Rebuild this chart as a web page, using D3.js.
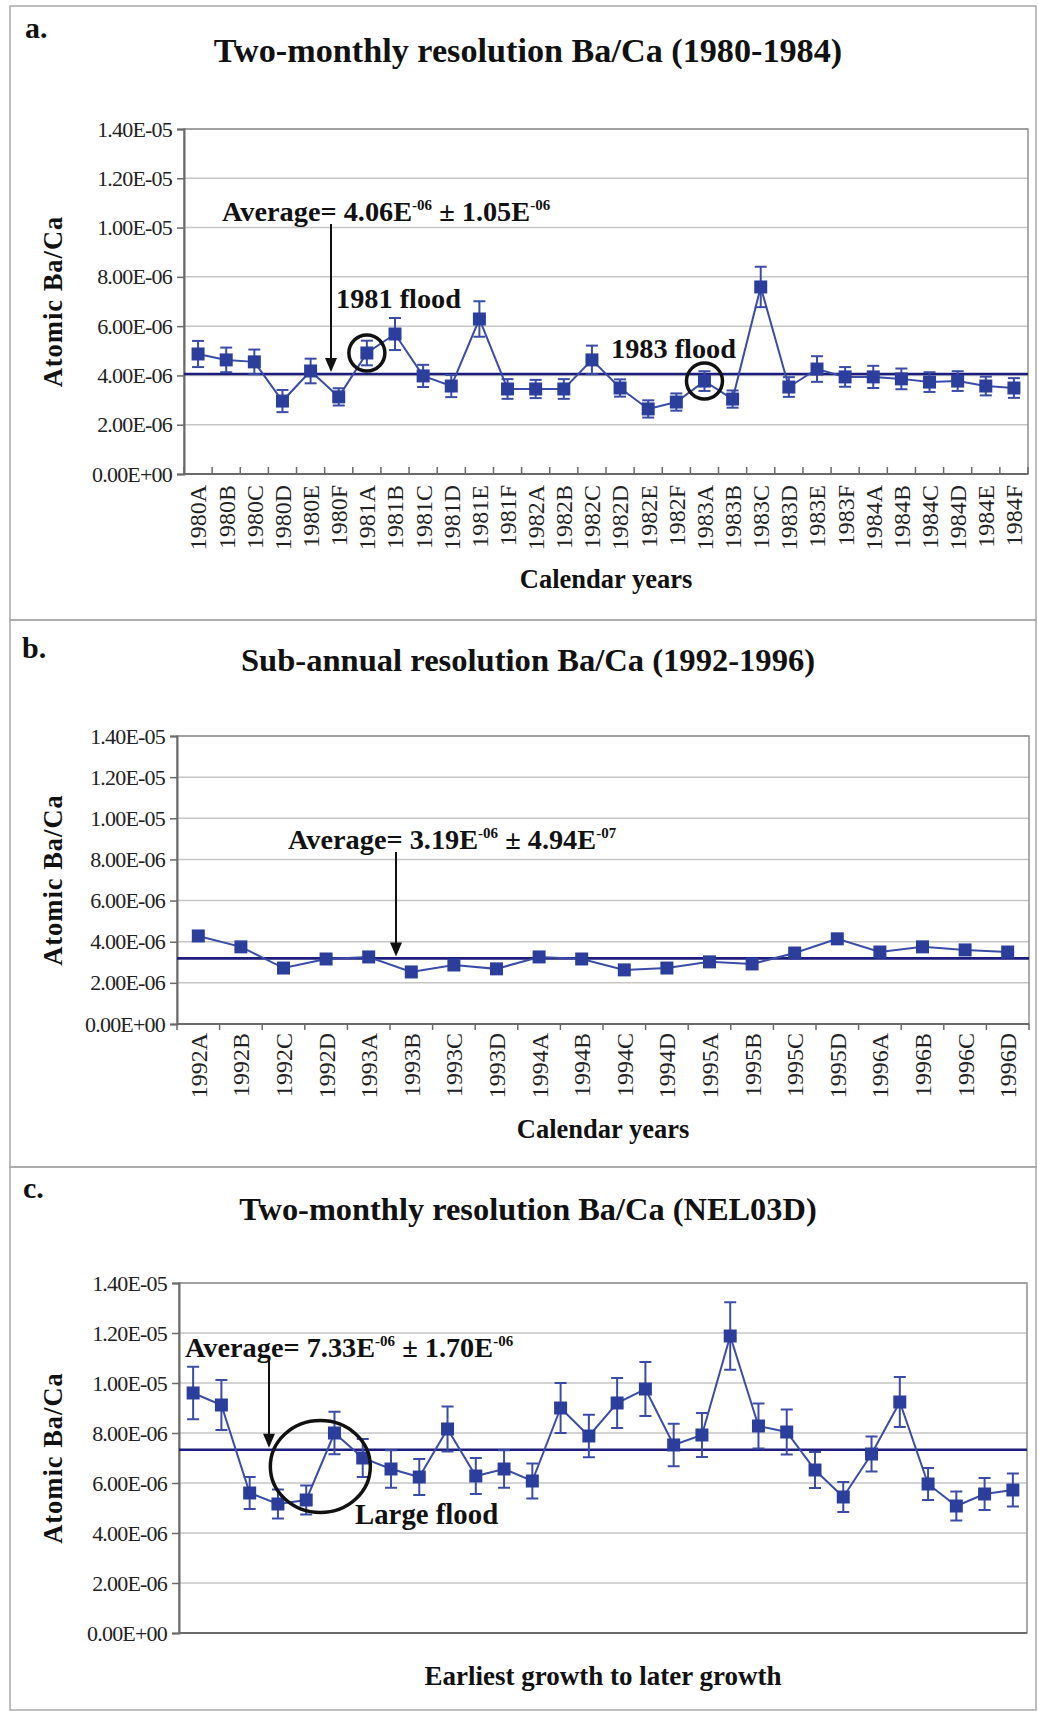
<!DOCTYPE html>
<html>
<head>
<meta charset="utf-8">
<script src="https://cdn.jsdelivr.net/npm/d3@7"></script>
<style>
  body { margin: 0; background: #fff; }
  svg { display: block; }
</style>
</head>
<body>
<svg id="fig" width="1038" height="1711"></svg>
<script>
// ---------- data ----------
const yTickValues = [0, 2e-6, 4e-6, 6e-6, 8e-6, 1.0e-5, 1.2e-5, 1.4e-5];
const yTickLabels = ["0.00E+00", "2.00E-06", "4.00E-06", "6.00E-06", "8.00E-06", "1.00E-05", "1.20E-05", "1.40E-05"];

// a. two-monthly resolution, 1980-1984
const categoriesA = [
  "1980A", "1980B", "1980C", "1980D", "1980E", "1980F",
  "1981A", "1981B", "1981C", "1981D", "1981E", "1981F",
  "1982A", "1982B", "1982C", "1982D", "1982E", "1982F",
  "1983A", "1983B", "1983C", "1983D", "1983E", "1983F",
  "1984A", "1984B", "1984C", "1984D", "1984E", "1984F"
];
const valuesA = [
  4.87e-6, 4.63e-6, 4.55e-6, 2.96e-6, 4.18e-6, 3.13e-6,
  4.91e-6, 5.68e-6, 3.98e-6, 3.57e-6, 6.29e-6, 3.45e-6,
  3.45e-6, 3.45e-6, 4.63e-6, 3.49e-6, 2.64e-6, 2.92e-6,
  3.77e-6, 3.04e-6, 7.59e-6, 3.53e-6, 4.26e-6, 3.94e-6,
  3.94e-6, 3.86e-6, 3.73e-6, 3.77e-6, 3.57e-6, 3.49e-6
];
const errorsA = [
  0.53e-6, 0.50e-6, 0.50e-6, 0.45e-6, 0.50e-6, 0.35e-6,
  0.50e-6, 0.65e-6, 0.45e-6, 0.45e-6, 0.72e-6, 0.40e-6,
  0.37e-6, 0.40e-6, 0.58e-6, 0.35e-6, 0.35e-6, 0.35e-6,
  0.40e-6, 0.35e-6, 0.82e-6, 0.40e-6, 0.52e-6, 0.40e-6,
  0.45e-6, 0.42e-6, 0.40e-6, 0.40e-6, 0.38e-6, 0.40e-6
];
const meanA = 4.06e-6;
const sdA = 1.05e-6;
const floodsA = [
  { category: "1981A", label: "1981 flood" },
  { category: "1983A", label: "1983 flood" }
];

// b. sub-annual resolution, 1992-1996
const categoriesB = [
  "1992A", "1992B", "1992C", "1992D",
  "1993A", "1993B", "1993C", "1993D",
  "1994A", "1994B", "1994C", "1994D",
  "1995A", "1995B", "1995C", "1995D",
  "1996A", "1996B", "1996C", "1996D"
];
const valuesB = [
  4.28e-6, 3.75e-6, 2.72e-6, 3.16e-6,
  3.26e-6, 2.53e-6, 2.87e-6, 2.68e-6,
  3.26e-6, 3.16e-6, 2.63e-6, 2.72e-6,
  3.02e-6, 2.92e-6, 3.45e-6, 4.14e-6,
  3.50e-6, 3.75e-6, 3.60e-6, 3.50e-6
];
const meanB = 3.19e-6;
const sdB = 4.94e-7;

// c. two-monthly resolution, coral NEL03D (earliest to latest growth)
const samplesC = [
  1, 2, 3, 4, 5, 6, 7, 8, 9, 10,
  11, 12, 13, 14, 15, 16, 17, 18, 19, 20,
  21, 22, 23, 24, 25, 26, 27, 28, 29, 30
];
const valuesC = [
  9.60e-6, 9.12e-6, 5.60e-6, 5.16e-6, 5.32e-6, 8.00e-6, 7.00e-6, 6.56e-6, 6.24e-6, 8.16e-6,
  6.28e-6, 6.56e-6, 6.08e-6, 9.00e-6, 7.88e-6, 9.20e-6, 9.76e-6, 7.52e-6, 7.92e-6, 11.88e-6,
  8.28e-6, 8.04e-6, 6.52e-6, 5.44e-6, 7.16e-6, 9.24e-6, 5.96e-6, 5.08e-6, 5.56e-6, 5.72e-6
];
const errorsC = [
  1.05e-6, 1.00e-6, 0.64e-6, 0.58e-6, 0.58e-6, 0.85e-6, 0.76e-6, 0.75e-6, 0.72e-6, 0.90e-6,
  0.72e-6, 0.75e-6, 0.70e-6, 1.00e-6, 0.85e-6, 1.00e-6, 1.08e-6, 0.85e-6, 0.88e-6, 1.35e-6,
  0.90e-6, 0.90e-6, 0.72e-6, 0.60e-6, 0.70e-6, 1.00e-6, 0.64e-6, 0.58e-6, 0.64e-6, 0.66e-6
];
const meanC = 7.33e-6;
const sdC = 1.70e-6;
const floodC = { samples: [5, 6], label: "Large flood" };

// ---------- styling ----------
const SERIF = '"Liberation Serif", "Times New Roman", Times, serif';
const SERIES = "#3a4ca6";
const MARKER = "#2c3e9c";
const MEAN = "#1d1d7c";
const GRID = "#c6c6c6";
const NOTE_SIZE = 28.3;

// ---------- layout ----------
const panels = [
  {
    frame: { top: 6, bottom: 620 },
    letter: { text: "a.", x: 25, y: 38 },
    title: { text: "Two-monthly resolution Ba/Ca (1980-1984)", y: 62, size: 34.2 },
    plot: { l: 184, t: 129, r: 1028, b: 474 },
    categories: categoriesA, values: valuesA, errors: errorsA,
    mean: meanA, sd: sdA,
    xTicks: "inside", labelGap: 11,
    xTitle: { text: "Calendar years", y: 588, size: 26.5 },
    note: { x: 222, y: 221, arrowX: 331 }
  },
  {
    frame: { top: 620, bottom: 1167 },
    letter: { text: "b.", x: 22, y: 658 },
    title: { text: "Sub-annual resolution Ba/Ca (1992-1996)", y: 671, size: 32.6 },
    plot: { l: 177, t: 736, r: 1029, b: 1024 },
    categories: categoriesB, values: valuesB, errors: null,
    mean: meanB, sd: sdB,
    xTicks: "outside", labelGap: 9,
    xTitle: { text: "Calendar years", y: 1138, size: 26.5 },
    note: { x: 288, y: 849, arrowX: 396 }
  },
  {
    frame: { top: 1167, bottom: 1710 },
    letter: { text: "c.", x: 23, y: 1198 },
    title: { text: "Two-monthly resolution Ba/Ca (NEL03D)", y: 1220, size: 32.4 },
    plot: { l: 179, t: 1283, r: 1027, b: 1633 },
    categories: samplesC, values: valuesC, errors: errorsC,
    mean: meanC, sd: sdC,
    xTicks: "none", labelGap: 0,
    xTitle: { text: "Earliest growth to later growth", y: 1685, size: 27 },
    note: { x: 185, y: 1357, arrowX: 269 }
  }
];

const svg = d3.select("#fig");
svg.append("rect").attr("width", 1038).attr("height", 1711).attr("fill", "#fff");

// scientific notation split into mantissa and two-digit exponent
function sciParts(v) {
  const e = Math.floor(Math.log10(v) + 1e-9);
  const m = v / Math.pow(10, e);
  const sign = e < 0 ? "-" : "+";
  return { mant: m.toFixed(2), exp: sign + String(Math.abs(e)).padStart(2, "0") };
}

function drawPanel(p) {
  const g = svg.append("g").attr("font-family", SERIF);
  const { l, t, r, b } = p.plot;

  // panel frame
  g.append("rect")
    .attr("x", 10).attr("y", p.frame.top)
    .attr("width", 1026).attr("height", p.frame.bottom - p.frame.top)
    .attr("fill", "none").attr("stroke", "#a8a8a8").attr("stroke-width", 1.5);

  g.append("text").attr("x", p.letter.x).attr("y", p.letter.y)
    .attr("font-family", SERIF).attr("font-weight", "bold").attr("font-size", 30)
    .attr("fill", "#111").text(p.letter.text);

  g.append("text").attr("x", 528).attr("y", p.title.y)
    .attr("text-anchor", "middle")
    .attr("font-family", SERIF).attr("font-weight", "bold").attr("font-size", p.title.size)
    .attr("fill", "#111").text(p.title.text);

  const x = d3.scaleBand().domain(p.categories).range([l, r]).padding(0);
  const y = d3.scaleLinear().domain([0, 1.4e-5]).range([b, t]);
  const cx = c => x(c) + x.bandwidth() / 2;

  // gridlines
  g.append("g").selectAll("line").data(yTickValues).join("line")
    .attr("x1", l).attr("x2", r)
    .attr("y1", d => y(d)).attr("y2", d => y(d))
    .attr("stroke", GRID).attr("stroke-width", 1.5);

  // plot area border
  g.append("rect").attr("x", l).attr("y", t).attr("width", r - l).attr("height", b - t)
    .attr("fill", "none").attr("stroke", "#8f8f8f").attr("stroke-width", 1.5);

  // y axis
  const yAxis = d3.axisLeft(y).tickValues(yTickValues)
    .tickFormat((d, i) => yTickLabels[i]).tickSize(7).tickPadding(5);
  const ya = g.append("g").attr("transform", `translate(${l},0)`).call(yAxis)
    .attr("font-family", SERIF);
  ya.select(".domain").attr("stroke", "#6a6a6a").attr("stroke-width", 2);
  ya.selectAll(".tick line").attr("stroke", "#6a6a6a").attr("stroke-width", 1.5);
  ya.selectAll(".tick text")
    .attr("font-family", SERIF).attr("font-size", 22)
    .attr("letter-spacing", "-0.8px").attr("fill", "#222");

  // x axis line
  g.append("line").attr("x1", l).attr("x2", r).attr("y1", b).attr("y2", b)
    .attr("stroke", "#6a6a6a").attr("stroke-width", 2);

  if (p.xTicks !== "none") {
    const bounds = p.categories.map(c => x(c)).concat([r]);
    const dir = p.xTicks === "inside" ? -7 : 6;
    g.append("g").selectAll("line").data(bounds).join("line")
      .attr("x1", d => d).attr("x2", d => d)
      .attr("y1", b).attr("y2", b + dir)
      .attr("stroke", "#6a6a6a").attr("stroke-width", 1.5);

    g.append("g").selectAll("text").data(p.categories).join("text")
      .attr("transform", d => `translate(${cx(d)},${b + p.labelGap}) rotate(-90)`)
      .attr("text-anchor", "end").attr("dy", "0.35em")
      .attr("font-family", SERIF).attr("font-size", 24).attr("fill", "#222")
      .text(d => d);
  }

  // axis titles
  g.append("text")
    .attr("transform", `translate(62,${(t + b) / 2}) rotate(-90)`)
    .attr("text-anchor", "middle")
    .attr("font-family", SERIF).attr("font-weight", "bold").attr("font-size", 26.5)
    .attr("letter-spacing", "1px").attr("fill", "#111")
    .text("Atomic Ba/Ca");

  g.append("text").attr("x", (l + r) / 2).attr("y", p.xTitle.y)
    .attr("text-anchor", "middle")
    .attr("font-family", SERIF).attr("font-weight", "bold").attr("font-size", p.xTitle.size)
    .attr("fill", "#111").text(p.xTitle.text);

  // average line
  g.append("line").attr("x1", l).attr("x2", r)
    .attr("y1", y(p.mean)).attr("y2", y(p.mean))
    .attr("stroke", MEAN).attr("stroke-width", 2.6);

  // series
  const pts = p.categories.map((c, i) => ({ c, v: p.values[i], e: p.errors ? p.errors[i] : 0 }));
  g.append("path").datum(pts)
    .attr("d", d3.line().x(d => cx(d.c)).y(d => y(d.v)))
    .attr("fill", "none").attr("stroke", SERIES).attr("stroke-width", 2);

  if (p.errors) {
    const eb = g.append("g").attr("stroke", SERIES).attr("stroke-width", 2);
    eb.selectAll("line.v").data(pts).join("line").attr("class", "v")
      .attr("x1", d => cx(d.c)).attr("x2", d => cx(d.c))
      .attr("y1", d => y(d.v - d.e)).attr("y2", d => y(d.v + d.e));
    eb.selectAll("line.top").data(pts).join("line").attr("class", "top")
      .attr("x1", d => cx(d.c) - 6).attr("x2", d => cx(d.c) + 6)
      .attr("y1", d => y(d.v + d.e)).attr("y2", d => y(d.v + d.e));
    eb.selectAll("line.bot").data(pts).join("line").attr("class", "bot")
      .attr("x1", d => cx(d.c) - 6).attr("x2", d => cx(d.c) + 6)
      .attr("y1", d => y(d.v - d.e)).attr("y2", d => y(d.v - d.e));
  }

  g.append("g").selectAll("rect").data(pts).join("rect")
    .attr("x", d => cx(d.c) - 6.5).attr("y", d => y(d.v) - 6.5)
    .attr("width", 13).attr("height", 13)
    .attr("fill", MARKER);

  // average annotation with arrow down to the average line
  const mp = sciParts(p.mean), sp = sciParts(p.sd);
  const note = g.append("text").attr("x", p.note.x).attr("y", p.note.y)
    .attr("font-family", SERIF).attr("font-weight", "bold").attr("font-size", NOTE_SIZE)
    .attr("fill", "#111");
  note.append("tspan").text(`Average= ${mp.mant}E`);
  note.append("tspan").attr("font-size", 15).attr("dy", -11).text(mp.exp);
  note.append("tspan").attr("dy", 11).text(` \u00B1 ${sp.mant}E`);
  note.append("tspan").attr("font-size", 15).attr("dy", -11).text(sp.exp);

  const tipY = y(p.mean) - 2;
  g.append("line").attr("x1", p.note.arrowX).attr("x2", p.note.arrowX)
    .attr("y1", p.note.y + 3).attr("y2", tipY - 12)
    .attr("stroke", "#111").attr("stroke-width", 2);
  g.append("path")
    .attr("d", `M${p.note.arrowX - 6},${tipY - 14} L${p.note.arrowX + 6},${tipY - 14} L${p.note.arrowX},${tipY} Z`)
    .attr("fill", "#111");

  return { g, x, y, cx };
}

const drawn = panels.map(drawPanel);

// flood markers, panel a
{
  const { g, y, cx } = drawn[0];
  floodsA.forEach(f => {
    const i = categoriesA.indexOf(f.category);
    g.append("circle").attr("cx", cx(f.category)).attr("cy", y(valuesA[i]))
      .attr("r", 18).attr("fill", "none").attr("stroke", "#111").attr("stroke-width", 3.5);
  });
  const labelPos = [{ x: 336, y: 308 }, { x: 611, y: 358 }];
  floodsA.forEach((f, k) => {
    g.append("text").attr("x", labelPos[k].x).attr("y", labelPos[k].y)
      .attr("font-family", SERIF).attr("font-weight", "bold").attr("font-size", 28.3)
      .attr("fill", "#111").text(f.label);
  });
}

// flood marker, panel c
{
  const { g, y, cx } = drawn[2];
  const [s1, s2] = floodC.samples;
  const ex = (cx(s1) + cx(s2)) / 2;
  const ey = (y(valuesC[samplesC.indexOf(s1)]) + y(valuesC[samplesC.indexOf(s2)])) / 2;
  g.append("ellipse").attr("cx", ex).attr("cy", ey).attr("rx", 50).attr("ry", 46)
    .attr("fill", "none").attr("stroke", "#111").attr("stroke-width", 3.5);
  g.append("text").attr("x", 355).attr("y", 1524)
    .attr("font-family", SERIF).attr("font-weight", "bold").attr("font-size", 28.8)
    .attr("fill", "#111").text(floodC.label);
}
</script>
</body>
</html>
